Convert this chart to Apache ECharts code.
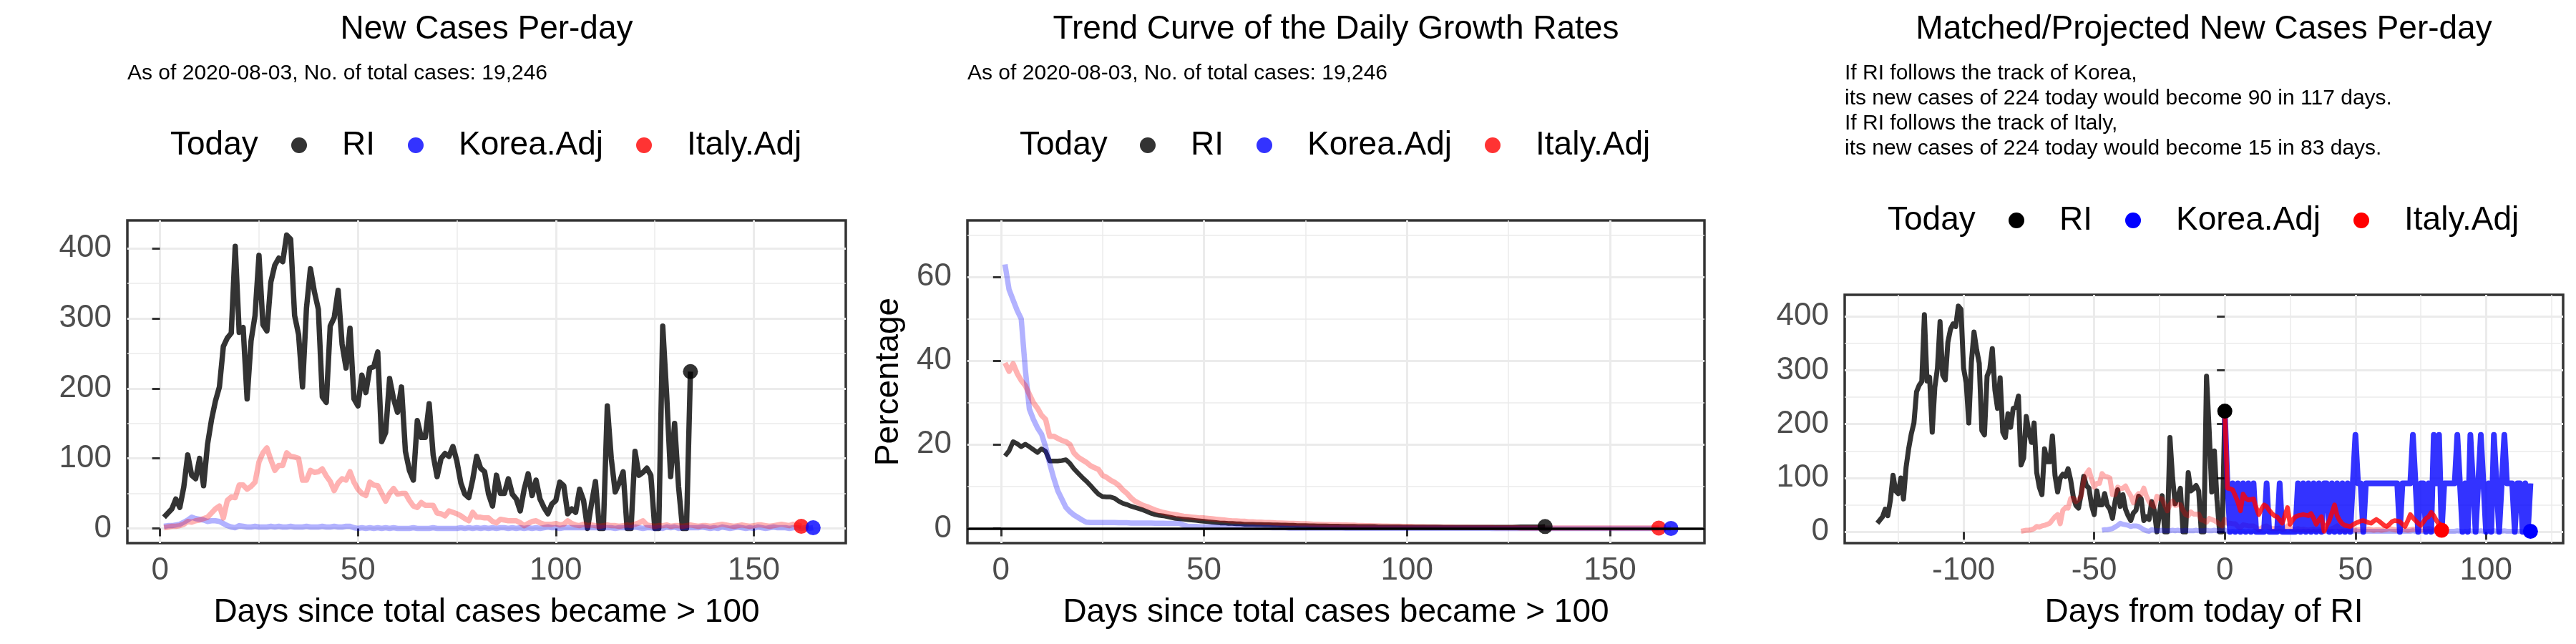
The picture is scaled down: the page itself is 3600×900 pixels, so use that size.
<!DOCTYPE html>
<html><head><meta charset="utf-8">
<script src="https://cdn.jsdelivr.net/npm/echarts@6/dist/echarts.min.js"></script>
<style>html,body{margin:0;padding:0;background:#fff}#c{width:3600px;height:900px}</style>
</head><body><div id="c"></div>
<script>
// ---------- DATA ----------
// Daily new cases, day 1 = first day with total cases > 100
const riNewCases = [16,22,28,42,30,59,105,76,71,100,
 61,120,155,182,202,260,272,279,403,280,
 287,185,268,304,390,291,282,352,376,386,
 381,419,413,304,277,202,315,371,338,313,
 188,180,289,301,340,263,229,286,185,175,
 219,194,229,231,252,124,137,214,185,166,
 202,110,83,69,154,130,130,178,105,74,
 100,107,103,117,96,65,49,44,70,103,
 86,81,49,32,76,50,50,71,49,42,
 25,56,78,47,69,42,30,21,35,40,
 66,61,21,28,23,56,40,0,35,67,
 0,0,175,100,52,65,81,0,0,110,
 76,80,86,76,0,0,289,190,74,150,
 60,0,0,224];
const koreaNewCases = [3,4,4,5,6,9,12,16,14,13,
 12,10,11,11,10,7,4,2,1,4,
 3,2,2,3,2,2,2,3,2,3,
 2,2,3,2,2,2,3,2,2,2,
 3,2,2,3,2,2,3,3,
 1,0,1,0,1,0,1,0,1,0,
 1,0,0,0,0,1,0,0,0,0,
 1,0,0,0,0,0,0,1,0,1,
 0,1,0,1,0,1,0,1,1,0,
 1,0,1,0,1,0,1,0,1,2,
 1,1,0,1,1,1,1,1,1,1,
 1,1,1,1,1,1,0,1,1,1,
 1,2,1,0,1,1,0,1,0,2,
 1,2,0,1,1,1,1,1,2,1,
 0,1,0,2,1,0,1,2,1,0,
 1,0,2,1,0,1,2,1,1,1,
 0,1,1,0,1,0,1];
const italyNewCases = [1,2,3,3,4,6,10,9,11,12,
 14,16,22,28,32,15,40,45,44,62,
 62,56,60,66,95,108,115,98,83,90,
 90,108,103,102,100,69,69,83,80,81,
 85,75,67,54,65,71,69,81,66,56,
 50,47,66,62,61,50,39,50,57,49,
 50,50,40,32,30,37,33,33,33,22,
 21,18,25,23,21,18,14,11,23,16,
 16,15,15,10,8,13,12,11,11,11,
 8,4,7,10,11,8,6,6,6,7,
 5,6,11,7,5,4,6,4,5,4,
 3,4,5,4,4,3,4,5,4,6,
 8,11,5,4,3,4,4,5,3,4,
 4,3,4,5,4,3,4,4,3,4,
 5,6,5,4,3,4,5,4,3,4,
 5,5,4,3,4,5,6,5,4,6,
 5,3];
// Trend of daily growth rates (%)
const riGrowth = [17.3,18.5,20.7,20.2,19.5,20.1,19.5,18.8,18.1,19.0,
 18.4,16.1,16.1,16.1,16.2,16.4,15.5,14.2,13.2,12.2,
 11.3,10.3,9.2,8.2,7.6,7.5,7.5,7.2,6.5,6.0,
 5.7,5.3,5.0,4.7,4.4,4.0,3.6,3.3,3.1,3.0,
 2.8,2.6,2.4,2.3,2.2,2.1,2.0,1.9,1.8,1.7,
 1.6,1.5,1.4,1.3,1.3,1.2,1.2,1.1,1.1,1.0,
 1.0,1.0,0.95,0.95,0.9,0.9,0.85,0.85,0.8,0.8,
 0.75,0.75,0.7,0.7,0.7,0.65,0.65,0.6,0.6,0.6,
 0.55,0.55,0.55,0.5,0.5,0.5,0.5,0.45,0.45,0.45,
 0.45,0.45,0.4,0.4,0.4,0.4,0.4,0.4,0.35,0.35,
 0.35,0.35,0.35,0.35,0.35,0.35,0.35,0.35,0.3,0.3,
 0.3,0.3,0.3,0.3,0.3,0.3,0.3,0.3,0.3,0.3,
 0.3,0.3,0.3,0.3,0.3,0.3,0.35,0.4,0.4,0.4,
 0.4,0.4,0.4,0.45];
const koreaGrowth = [63.0,57.0,54.5,52.0,50.0,38.0,28.5,26.0,24.0,22.5,
 19.5,15.5,12.0,9.0,7.0,5.0,4.0,3.2,2.6,2.0,
 1.5,1.4,1.4,1.4,1.4,1.4,1.4,1.4,1.35,1.35,
 1.35,1.3,1.3,1.3,1.3,1.3,1.3,1.25,1.25,1.25,
 1.2,1.2,1.2,1.2,0.8,0.5,0.45,0.45,0.4,0.4,
 0.4,0.4,0.35,0.35,0.35,0.3,0.3,0.3,0.3,0.25,
 0.25,0.25,0.2,0.2,0.2,0.2,0.15,0.15,0.15,0.15,
 0.1,0.1,0.1,0.1,0.1,0.1,0.1,0.1,0.1,0.1,
 0.1,0.1,0.1,0.1,0.05,0.05,0.05,0.05,0.05,0.05,
 0.05,0.05,0.05,0.05,0.05,0.05,0.05,0.05,0.05,0.05,
 0.05,0.05,0.05,0.05,0.05,0.05,0.05,0.05,0.05,0.05,
 0.05,0.05,0.05,0.05,0.05,0.05,0.05,0.05,0.05,0.05,
 0,0,0,0,0,0,0,0,0,0,
 0,0,0,0,0,0,0,0,0,0,
 0,0,0,0,0,0,0,0,0,0,
 0,0,0,0,0,0,0,0,0,0,
 0,0,0,0,0];
const italyGrowth = [39.5,37.5,39.3,37.0,35.3,34.1,32.0,30.0,28.7,27.0,
 26.0,22.0,22.0,21.5,21.0,20.7,20.0,18.0,17.0,16.4,
 15.8,15.0,14.5,14.1,12.7,12.2,11.5,11.0,10.3,9.2,
 8.4,7.3,6.5,6.0,5.5,5.2,4.8,4.4,4.1,3.8,
 3.6,3.4,3.3,3.1,2.9,2.8,2.7,2.6,2.5,2.5,
 2.4,2.3,2.2,2.1,2.0,1.9,1.8,1.8,1.7,1.7,
 1.6,1.6,1.5,1.5,1.4,1.4,1.35,1.3,1.3,1.25,
 1.2,1.2,1.15,1.1,1.1,1.05,1.0,1.0,0.95,0.9,
 0.9,0.85,0.85,0.8,0.8,0.75,0.75,0.7,0.7,0.65,
 0.65,0.6,0.6,0.55,0.55,0.5,0.5,0.5,0.45,0.45,
 0.45,0.4,0.4,0.4,0.35,0.35,0.35,0.3,0.3,0.3,
 0.3,0.25,0.25,0.25,0.25,0.2,0.2,0.2,0.2,0.2,
 0.2,0.15,0.15,0.15,0.15,0.15,0.15,0.1,0.1,0.1,
 0.1,0.1,0.1,0.1,0.1,0.1,0.1,0.1,0.1,0.1,
 0.1,0.1,0.1,0.1,0.1,0.1,0.1,0.1,0.1,0.1,
 0.1,0.1,0.1,0.1,0.1,0.1,0.1,0.1,0.1,0.1,
 0.1,0.1];
// Projected new cases for RI, day 0 = today
const koreaProjected = [224,
 90,0,90,0,90,0,90,0,90,0,
 90,0,0,0,0,90,0,0,0,0,
 90,0,0,0,0,0,0,90,0,90,
 0,90,0,90,0,90,0,90,90,0,
 90,0,90,0,90,0,90,0,90,180,
 90,90,0,90,90,90,90,90,90,90,
 90,90,90,90,90,90,0,90,90,90,
 90,180,90,0,90,90,0,90,0,180,
 90,180,0,90,90,90,90,90,180,90,
 0,90,0,180,90,0,90,180,90,0,
 90,0,180,90,0,90,180,90,90,90,
 0,90,90,0,90,0,90];
const italyProjected = [224,81,80,78,67,55,39,70,62,59,
 60,61,45,32,42,50,47,40,34,30,
 28,22,16,30,45,14,22,28,30,31,
 32,31,30,34,25,14,22,28,1,12,
 21,35,50,30,21,15,12,11,10,13,
 16,18,20,21,19,17,16,20,23,20,
 16,12,10,14,19,21,20,19,14,10,
 20,32,26,21,16,12,18,25,28,36,
 30,21,14,15];
const koreaMatchDay = 48;   // Korea day matched to RI today
const italyMatchDay = 79;   // Italy day matched to RI today
const seriesNames = ['RI', 'Korea.Adj', 'Italy.Adj'];
const daysTicks = [0, 50, 100, 150];
const daysMinor = [25, 75, 125];
const casesTicks = [0, 100, 200, 300, 400];
const casesMinor = [50, 150, 250, 350];
const pctTicks = [0, 20, 40, 60];
const pctMinor = [10, 30, 50, 70];
const relTicks = [-100, -50, 0, 50, 100];
const relMinor = [-125, -75, -25, 25, 75, 125];
const titles = ['New Cases Per-day', 'Trend Curve of the Daily Growth Rates', 'Matched/Projected New Cases Per-day'];
const subtitle = 'As of 2020-08-03, No. of total cases: 19,246';
const projText = ['If RI follows the track of Korea,',
 'its new cases of 224 today would become 90 in 117 days.',
 'If RI follows the track of Italy,',
 'its new cases of 224 today would become 15 in 83 days.'];

// ---------- CHART ----------
const FONT = '"Liberation Sans", Arial, sans-serif';
const C_RI = 'rgba(0,0,0,0.8)', C_KO = 'rgba(0,0,255,0.8)', C_IT = 'rgba(255,0,0,0.8)';
const C_KO_L = 'rgba(0,0,255,0.3)', C_IT_L = 'rgba(255,0,0,0.3)';

const xy = (arr, off) => arr.map((v, i) => [i + 1 + off, v]);
const xyT = arr => arr.map((v, t) => [t, v]);
const last = (arr, off) => [[arr.length + off, arr[arr.length - 1]]];

function majorAxis(kind, grid, min, max, ticks, extra) {
  return Object.assign({
    gridIndex: grid, type: 'value', min, max,
    axisLine: {show: false},
    axisTick: {show: true, inside: false, length: 11, customValues: ticks, lineStyle: {color: '#333333', width: 3}},
    axisLabel: {show: true, customValues: ticks, color: '#4D4D4D', fontSize: 44, fontFamily: FONT, margin: kind === 'x' ? 17 : 22},
    splitLine: {show: true, lineStyle: {color: '#EBEBEB', width: 3}},
    minorTick: {show: false}, minorSplitLine: {show: false}
  }, extra || {});
}
function minorAxis(grid, min, max, ticks) {
  return {gridIndex: grid, type: 'value', min, max,
    axisLine: {show: false}, axisTick: {show: false, customValues: ticks}, axisLabel: {show: false},
    splitLine: {show: true, lineStyle: {color: '#EBEBEB', width: 1.5}}};
}
const xName = (name) => ({name, nameLocation: 'middle', nameGap: 74, nameTextStyle: {fontSize: 46, color: '#000', fontFamily: FONT}});

function line(name, data, x, y, color, width, extra) {
  return Object.assign({type: 'line', name, data, xAxisIndex: x, yAxisIndex: y, showSymbol: false, symbol: 'none',
    lineStyle: {color, width, cap: 'butt', join: 'round'}, itemStyle: {color}, silent: true, z: 2}, extra || {});
}
function dot(name, data, x, y, color) {
  return {type: 'scatter', name, data, xAxisIndex: x, yAxisIndex: y, symbol: 'circle', symbolSize: 21,
    itemStyle: {color, opacity: 1}, silent: true, z: 3};
}
function legendFor(left, top, colors) {
  return {left, top, orient: 'horizontal', padding: 0, itemGap: 46, itemWidth: 22, itemHeight: 22,
    icon: 'circle', selectedMode: false,
    textStyle: {fontSize: 46, fontFamily: FONT, color: '#000', lineHeight: 46, padding: [0, 0, 0, 44]},
    data: seriesNames.map((n, i) => ({name: n, icon: 'circle', itemStyle: {color: colors[i], borderWidth: 0}}))};
}
function txt(text, x, y, size, align) {
  return {type: 'text', x, y, silent: true, style: {text, fontSize: size, fontFamily: FONT, fill: '#000',
    textAlign: align, textVerticalAlign: 'middle', align, verticalAlign: 'middle'}};
}

const YC = [-20.95, 439.95], XD = [-8.25, 173.25], YP = [-3.5, 73.5], XR = [-145.5, 129.5];
const riOff = -riNewCases.length;

const option = {
  animation: false,
  backgroundColor: '#ffffff',
  textStyle: {fontFamily: FONT},
  grid: [
    {left: 178, top: 308, width: 1004, height: 451, show: true, borderColor: '#333333', borderWidth: 3.5, backgroundColor: 'transparent'},
    {left: 1352, top: 308, width: 1030, height: 451, show: true, borderColor: '#333333', borderWidth: 3.5, backgroundColor: 'transparent'},
    {left: 2578, top: 412, width: 1004, height: 347, show: true, borderColor: '#333333', borderWidth: 3.5, backgroundColor: 'transparent'}
  ],
  xAxis: [
    majorAxis('x', 0, XD[0], XD[1], daysTicks, xName('Days since total cases became > 100')),
    majorAxis('x', 1, XD[0], XD[1], daysTicks, xName('Days since total cases became > 100')),
    majorAxis('x', 2, XR[0], XR[1], relTicks, xName('Days from today of RI')),
    minorAxis(0, XD[0], XD[1], daysMinor),
    minorAxis(1, XD[0], XD[1], daysMinor),
    minorAxis(2, XR[0], XR[1], relMinor)
  ],
  yAxis: [
    majorAxis('y', 0, YC[0], YC[1], casesTicks),
    majorAxis('y', 1, YP[0], YP[1], pctTicks, {name: 'Percentage', nameLocation: 'middle', nameGap: 87,
      nameTextStyle: {fontSize: 46, color: '#000', fontFamily: FONT}}),
    majorAxis('y', 2, YC[0], YC[1], casesTicks),
    minorAxis(0, YC[0], YC[1], casesMinor),
    minorAxis(1, YP[0], YP[1], pctMinor),
    minorAxis(2, YC[0], YC[1], casesMinor)
  ],
  legend: [
    legendFor(407, 180, [C_RI, C_KO, C_IT]),
    legendFor(1593, 180, [C_RI, C_KO, C_IT]),
    legendFor(2807, 285, ['#000000', '#0000ff', '#ff0000'])
  ],
  graphic: [
    txt(titles[0], 680, 41, 46, 'center'),
    txt(titles[1], 1867, 41, 46, 'center'),
    txt(titles[2], 3080, 41, 46, 'center'),
    txt(subtitle, 178, 103, 30, 'left'),
    txt(subtitle, 1352, 103, 30, 'left'),
    txt(projText[0], 2578, 103, 30, 'left'),
    txt(projText[1], 2578, 138, 30, 'left'),
    txt(projText[2], 2578, 173, 30, 'left'),
    txt(projText[3], 2578, 208, 30, 'left'),
    txt('Today', 238, 203, 46, 'left'),
    txt('Today', 1425, 203, 46, 'left'),
    txt('Today', 2638, 308, 46, 'left')
  ],
  series: [
    // Panel 1
    line('RI new', xy(riNewCases, 0), 0, 0, C_RI, 7.5),
    line('Korea new', xy(koreaNewCases, 0), 0, 0, C_KO_L, 7.5),
    line('Italy new', xy(italyNewCases, 0), 0, 0, C_IT_L, 7.5),
    dot('RI', last(riNewCases, 0), 0, 0, C_RI),
    dot('Italy.Adj', last(italyNewCases, 0), 0, 0, C_IT),
    dot('Korea.Adj', last(koreaNewCases, 0), 0, 0, C_KO),
    // Panel 2
    line('RI growth', xy(riGrowth, 0), 1, 1, C_RI, 6.5),
    line('Korea growth', xy(koreaGrowth, 0), 1, 1, C_KO_L, 7.5),
    line('Italy growth', xy(italyGrowth, 0), 1, 1, C_IT_L, 7.5, {
      markLine: {silent: true, symbol: ['none', 'none'], label: {show: false},
        lineStyle: {color: '#000', width: 3.5, type: 'solid'}, data: [{yAxis: 0}]}}),
    dot('RI', last(riGrowth, 0), 1, 1, C_RI),
    dot('Italy.Adj', last(italyGrowth, 0), 1, 1, C_IT),
    dot('Korea.Adj', last(koreaGrowth, 0), 1, 1, C_KO),
    // Panel 3
    line('RI matched', xy(riNewCases, riOff), 2, 2, C_RI, 7),
    line('Korea matched', xy(koreaNewCases, -koreaMatchDay), 2, 2, C_KO_L, 7),
    line('Italy matched', xy(italyNewCases, -italyMatchDay), 2, 2, C_IT_L, 7),
    line('Korea projected', xyT(koreaProjected), 2, 2, C_KO, 8),
    line('Italy projected', xyT(italyProjected), 2, 2, C_IT, 6.5),
    dot('RI', last(riNewCases, riOff), 2, 2, '#000000'),
    dot('Italy.Adj', last(italyNewCases, -italyMatchDay), 2, 2, '#ff0000'),
    dot('Korea.Adj', last(koreaNewCases, -koreaMatchDay), 2, 2, '#0000ff')
  ]
};
const chart = echarts.init(document.getElementById('c'), null, {renderer: 'canvas', width: 3600, height: 900});
chart.setOption(option);
</script>
</body></html>
